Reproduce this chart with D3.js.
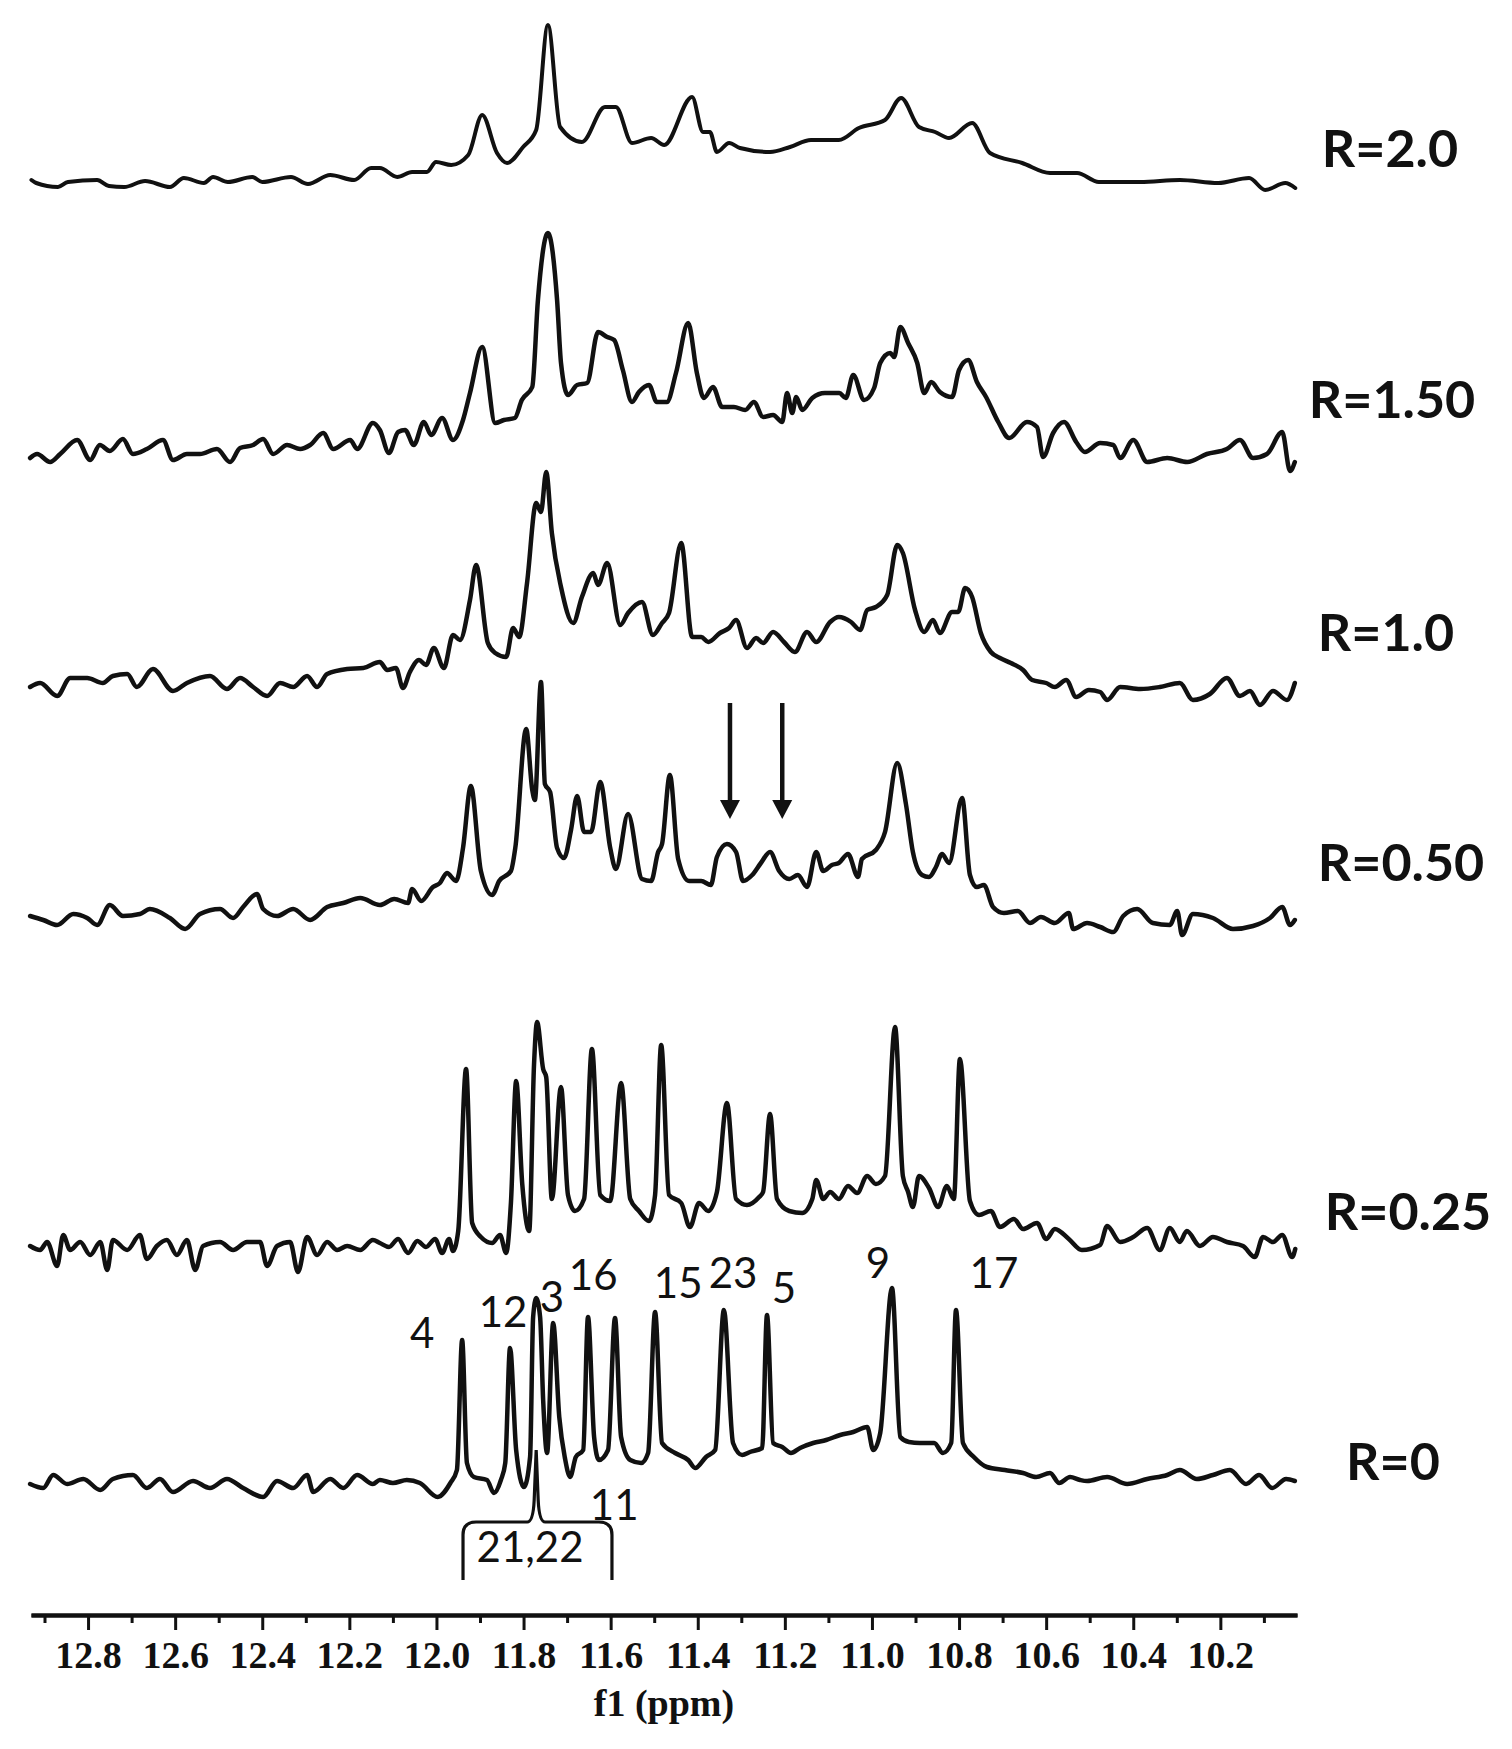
<!DOCTYPE html>
<html>
<head>
<meta charset="utf-8">
<script src="https://cdn.jsdelivr.net/npm/d3@7"></script>
<style>
  body { margin: 0; background: #fff; }
  svg { display: block; }
</style>
</head>
<body>
<div id="chart"></div>
<script>
// spectra: [ppm, intensity]
var specR20 = [
  [12.930,5],[12.919,2],[12.869,-2],[12.846,3],[12.779,5],[12.752,-1],[12.717,-2],[12.669,4],[12.612,-2],[12.580,7],
  [12.534,2],[12.513,8],[12.479,3],[12.423,8],[12.400,3],[12.334,8],[12.295,1],[12.244,10],[12.189,5],[12.150,17],
  [12.130,17],[12.090,8],[12.056,13],[12.022,13],[12.001,23],[11.966,20],[11.927,30],[11.895,70],[11.861,32],[11.838,22],
  [11.801,38],[11.771,55],[11.744,160],[11.716,58],[11.666,43],[11.613,78],[11.588,78],[11.551,42],[11.507,47],[11.477,40],
  [11.413,88],[11.388,53],[11.372,53],[11.356,33],[11.328,42],[11.303,37],[11.234,33],[11.188,38],[11.140,45],[11.076,45],
  [11.030,57],[10.970,65],[10.933,87],[10.892,58],[10.855,53],[10.823,47],[10.770,62],[10.729,32],[10.655,22],[10.591,12],
  [10.529,12],[10.479,3],[10.384,3],[10.293,5],[10.205,2],[10.134,7],[10.097,-5],[10.051,2],[10.028,-3]
];

var specR150 = [
  [12.933,2],[12.917,6],[12.887,-2],[12.864,6],[12.825,20],[12.795,0],[12.773,15],[12.750,9],[12.720,21],[12.697,6],
  [12.665,11],[12.628,20],[12.605,0],[12.573,6],[12.543,6],[12.504,11],[12.474,-2],[12.451,12],[12.421,15],[12.398,21],
  [12.375,6],[12.343,15],[12.313,11],[12.290,15],[12.260,27],[12.237,11],[12.198,20],[12.182,11],[12.146,37],[12.130,30],
  [12.109,7],[12.088,28],[12.072,30],[12.052,15],[12.029,38],[12.012,25],[11.987,42],[11.962,20],[11.939,40],[11.923,67],
  [11.895,113],[11.865,37],[11.845,40],[11.820,42],[11.804,60],[11.780,73],[11.767,160],[11.744,227],[11.723,160],[11.714,97],
  [11.698,65],[11.677,75],[11.654,77],[11.629,128],[11.608,123],[11.592,120],[11.572,90],[11.551,58],[11.535,68],[11.512,75],
  [11.494,58],[11.471,58],[11.450,87],[11.422,137],[11.402,87],[11.386,62],[11.365,73],[11.344,53],[11.317,53],[11.291,50],
  [11.271,58],[11.250,43],[11.227,45],[11.206,38],[11.195,67],[11.183,47],[11.174,63],[11.160,50],[11.137,62],[11.108,67],
  [11.075,67],[11.060,62],[11.043,85],[11.018,60],[10.995,72],[10.981,97],[10.958,107],[10.949,103],[10.935,133],[10.917,117],
  [10.896,97],[10.880,67],[10.864,78],[10.844,68],[10.816,63],[10.800,90],[10.779,100],[10.759,78],[10.738,63],[10.710,38],
  [10.685,22],[10.644,38],[10.621,33],[10.607,3],[10.584,27],[10.559,38],[10.531,18],[10.511,8],[10.476,17],[10.446,15],
  [10.430,2],[10.400,20],[10.368,-2],[10.322,2],[10.276,-2],[10.231,6],[10.185,11],[10.155,20],[10.125,2],[10.093,6],
  [10.058,28],[10.040,-11],[10.029,-2]
];

var specR10 = [
  [12.933,3],[12.910,7],[12.871,-6],[12.841,12],[12.802,12],[12.766,7],[12.743,14],[12.710,16],[12.688,3],[12.651,21],
  [12.605,-1],[12.573,7],[12.520,14],[12.481,1],[12.451,12],[12.421,3],[12.389,-6],[12.359,7],[12.329,3],[12.297,14],
  [12.274,3],[12.251,16],[12.205,21],[12.168,22],[12.130,28],[12.113,20],[12.093,22],[12.077,2],[12.061,18],[12.040,30],
  [12.024,25],[12.006,42],[11.983,22],[11.962,55],[11.946,50],[11.923,90],[11.909,125],[11.882,47],[11.865,37],[11.840,33],
  [11.824,62],[11.810,53],[11.792,107],[11.771,187],[11.760,178],[11.748,218],[11.735,157],[11.714,103],[11.686,67],[11.666,93],
  [11.640,117],[11.629,105],[11.608,127],[11.578,65],[11.560,77],[11.528,88],[11.503,55],[11.482,67],[11.466,77],[11.438,147],
  [11.413,53],[11.392,53],[11.376,48],[11.349,57],[11.328,62],[11.312,70],[11.287,42],[11.266,52],[11.250,47],[11.227,58],
  [11.202,48],[11.177,38],[11.149,58],[11.128,48],[11.096,68],[11.076,73],[11.048,68],[11.027,60],[11.011,80],[10.991,83],
  [10.965,95],[10.942,145],[10.929,137],[10.901,80],[10.880,58],[10.860,70],[10.844,57],[10.816,78],[10.802,78],[10.786,102],
  [10.770,93],[10.750,57],[10.727,38],[10.706,32],[10.681,27],[10.653,20],[10.632,10],[10.600,7],[10.580,3],[10.554,10],
  [10.531,-7],[10.502,0],[10.476,-2],[10.460,-10],[10.430,3],[10.384,1],[10.339,3],[10.293,7],[10.263,-10],[10.224,-4],
  [10.185,12],[10.155,-6],[10.132,-1],[10.109,-15],[10.079,-1],[10.047,-10],[10.029,7]
];

var specR050 = [
  [12.933,9],[12.903,5],[12.871,0],[12.834,11],[12.802,7],[12.779,0],[12.750,20],[12.720,9],[12.681,11],[12.658,16],
  [12.612,7],[12.577,-4],[12.543,11],[12.497,16],[12.467,7],[12.444,18],[12.412,31],[12.398,16],[12.366,9],[12.329,16],
  [12.290,5],[12.251,18],[12.214,22],[12.175,27],[12.130,20],[12.097,26],[12.065,22],[12.056,36],[12.035,24],[12.008,38],
  [11.992,42],[11.976,52],[11.955,44],[11.939,77],[11.921,139],[11.898,54],[11.872,30],[11.856,44],[11.829,54],[11.819,77],
  [11.794,196],[11.780,135],[11.774,125],[11.760,243],[11.751,141],[11.739,133],[11.723,77],[11.707,67],[11.691,95],[11.677,129],
  [11.661,93],[11.645,93],[11.624,143],[11.601,77],[11.588,56],[11.560,111],[11.528,46],[11.507,44],[11.491,73],[11.482,81],
  [11.464,150],[11.445,66],[11.420,44],[11.392,44],[11.370,40],[11.356,68],[11.333,81],[11.312,73],[11.296,44],[11.275,50],
  [11.255,62],[11.234,73],[11.213,54],[11.190,46],[11.170,50],[11.149,38],[11.128,73],[11.112,54],[11.092,60],[11.076,62],
  [11.055,71],[11.032,48],[11.023,66],[10.991,75],[10.970,93],[10.942,162],[10.922,121],[10.906,73],[10.885,50],[10.869,48],
  [10.853,58],[10.839,71],[10.823,62],[10.793,127],[10.775,50],[10.759,38],[10.743,40],[10.722,18],[10.697,12],[10.665,14],
  [10.637,2],[10.612,8],[10.580,2],[10.548,12],[10.538,-4],[10.506,2],[10.476,-2],[10.446,-7],[10.423,9],[10.391,16],
  [10.355,2],[10.316,0],[10.299,14],[10.288,-10],[10.263,11],[10.217,7],[10.171,-4],[10.125,-1],[10.086,7],[10.058,18],
  [10.040,0],[10.029,5]
];

var specR025 = [
  [12.933,9],[12.910,5],[12.894,13],[12.871,-11],[12.857,20],[12.841,5],[12.818,13],[12.795,0],[12.772,13],[12.756,-15],
  [12.743,15],[12.710,5],[12.681,20],[12.665,-4],[12.642,9],[12.619,15],[12.596,0],[12.573,15],[12.554,-15],[12.536,9],
  [12.497,13],[12.467,5],[12.435,13],[12.405,13],[12.389,-11],[12.366,9],[12.336,13],[12.318,-17],[12.297,18],[12.274,0],
  [12.251,13],[12.228,5],[12.205,9],[12.175,5],[12.146,15],[12.130,12],[12.109,8],[12.088,16],[12.065,2],[12.044,14],
  [12.024,8],[12.003,16],[11.987,2],[11.971,16],[11.962,4],[11.950,24],[11.932,186],[11.918,32],[11.898,18],[11.872,12],
  [11.854,20],[11.840,2],[11.829,52],[11.817,174],[11.803,71],[11.787,24],[11.776,190],[11.769,233],[11.755,186],[11.748,178],
  [11.735,56],[11.714,168],[11.698,60],[11.682,44],[11.661,56],[11.643,206],[11.624,60],[11.601,54],[11.576,172],[11.555,56],
  [11.535,44],[11.512,34],[11.498,60],[11.484,210],[11.466,60],[11.438,52],[11.418,28],[11.397,52],[11.376,44],[11.356,63],
  [11.333,152],[11.312,56],[11.287,50],[11.259,58],[11.250,63],[11.234,141],[11.218,56],[11.190,44],[11.160,42],[11.137,56],
  [11.128,75],[11.112,56],[11.096,63],[11.076,56],[11.055,69],[11.034,62],[11.011,79],[10.991,71],[10.970,79],[10.947,228],
  [10.929,79],[10.917,63],[10.906,48],[10.892,79],[10.869,67],[10.848,48],[10.828,69],[10.812,56],[10.798,196],[10.775,54],
  [10.754,40],[10.727,44],[10.706,28],[10.674,36],[10.653,26],[10.621,32],[10.600,16],[10.580,26],[10.548,16],[10.518,5],
  [10.476,10],[10.460,29],[10.430,13],[10.400,18],[10.368,27],[10.339,5],[10.316,27],[10.293,13],[10.277,24],[10.247,9],
  [10.217,18],[10.185,13],[10.148,9],[10.121,-2],[10.102,18],[10.079,13],[10.058,20],[10.035,-2],[10.028,6]
];

var specR0 = [
  [12.933,3],[12.903,-1],[12.880,12],[12.848,3],[12.811,8],[12.772,-3],[12.743,8],[12.697,12],[12.665,-1],[12.635,8],
  [12.605,-5],[12.559,6],[12.520,-1],[12.481,8],[12.444,-1],[12.398,-10],[12.366,6],[12.329,-1],[12.297,12],[12.283,-5],
  [12.244,8],[12.214,-1],[12.182,12],[12.146,3],[12.130,7],[12.100,4],[12.068,7],[12.038,4],[11.997,-10],[11.968,4],
  [11.953,17],[11.941,147],[11.930,24],[11.914,10],[11.884,7],[11.868,-6],[11.852,7],[11.842,24],[11.831,139],[11.817,37],
  [11.799,0],[11.785,30],[11.778,170],[11.771,189],[11.762,170],[11.755,87],[11.746,34],[11.732,164],[11.718,70],[11.705,29],
  [11.693,10],[11.680,30],[11.663,37],[11.652,170],[11.638,50],[11.627,27],[11.606,37],[11.590,169],[11.576,50],[11.555,27],
  [11.530,24],[11.514,34],[11.498,175],[11.482,44],[11.452,34],[11.422,27],[11.406,19],[11.381,30],[11.360,37],[11.340,177],
  [11.319,44],[11.298,32],[11.280,35],[11.252,39],[11.241,172],[11.227,44],[11.206,40],[11.186,34],[11.165,39],[11.135,44],
  [11.105,47],[11.073,52],[11.043,55],[11.011,60],[10.997,37],[10.981,54],[10.954,199],[10.935,50],[10.915,45],[10.890,44],
  [10.857,44],[10.837,34],[10.818,44],[10.807,177],[10.791,44],[10.766,30],[10.736,20],[10.695,17],[10.653,14],[10.623,10],
  [10.591,14],[10.570,4],[10.545,10],[10.522,7],[10.506,6],[10.460,10],[10.414,3],[10.368,8],[10.322,12],[10.293,17],
  [10.254,8],[10.217,12],[10.178,17],[10.141,3],[10.111,12],[10.081,-1],[10.049,8],[10.029,6]
];

var seriesNames = ['R=2.0', 'R=1.50', 'R=1.0', 'R=0.50', 'R=0.25', 'R=0'];
var spectra = [specR20, specR150, specR10, specR050, specR025, specR0];

var majorTicks = [12.8, 12.6, 12.4, 12.2, 12.0, 11.8, 11.6, 11.4, 11.2, 11.0, 10.8, 10.6, 10.4, 10.2];
var tickLabels = ['12.8', '12.6', '12.4', '12.2', '12.0', '11.8', '11.6', '11.4', '11.2', '11.0', '10.8', '10.6', '10.4', '10.2'];
var minorTicks = [12.9, 12.7, 12.5, 12.3, 12.1, 11.9, 11.7, 11.5, 11.3, 11.1, 10.9, 10.7, 10.5, 10.3, 10.1];

// peak assignments on the R=0 trace
var peakNames = ['4', '12', '3', '16', '15', '23', '5', '9', '17', '11', '21,22'];
var peakPpm = [12.033, 11.847, 11.735, 11.640, 11.445, 11.319, 11.202, 10.986, 10.720, 11.592, 11.785];

var arrowPpm = [11.326, 11.206];
var bracketPpm = [11.939, 11.771, 11.597];

// layout
var width = 1512, height = 1749;
var baselines = [185, 460, 690, 925, 1255, 1487];
var strokeWidths = [4, 4.5, 4.5, 4.5, 4.5, 4.5];
var seriesLabelX = [1390, 1392, 1386, 1401, 1408, 1393];
var seriesLabelY = [167, 418, 651, 881, 1230, 1480];
var peakLabelY = [1348, 1327, 1312, 1290, 1298, 1288, 1303, 1278, 1288, 1520, 1562];
var axisY = 1615;

var svg = d3.select('#chart')
  .append('svg')
  .attr('width', width)
  .attr('height', height)
  .style('background', '#fff');

var x = d3.scaleLinear()
  .domain([12.931, 10.024])
  .range([31, 1297]);

// stacked traces
spectra.forEach(function (data, i) {
  var y = d3.scaleLinear()
    .domain([0, 100])
    .range([baselines[i], baselines[i] - 100]);

  var line = d3.line()
    .x(function (d) { return x(d[0]); })
    .y(function (d) { return y(d[1]); })
    .curve(d3.curveMonotoneX);

  svg.append('path')
    .datum(data)
    .attr('class', 'trace')
    .attr('d', line)
    .attr('fill', 'none')
    .attr('stroke', '#111')
    .attr('stroke-width', strokeWidths[i])
    .attr('stroke-linejoin', 'round')
    .attr('stroke-linecap', 'round');

  svg.append('text')
    .attr('x', seriesLabelX[i])
    .attr('y', seriesLabelY[i])
    .attr('text-anchor', 'middle')
    .attr('font-family', 'Lato, sans-serif')
    .attr('font-weight', 700)
    .attr('font-size', 52)
    .attr('fill', '#111')
    .text(seriesNames[i]);
});

// x axis: minor ticks, then major ticks with labels
var gMinor = svg.append('g')
  .attr('transform', 'translate(0,' + axisY + ')')
  .call(d3.axisBottom(x)
    .tickValues(minorTicks)
    .tickSize(8)
    .tickSizeOuter(0)
    .tickFormat(''));

var gMajor = svg.append('g')
  .attr('transform', 'translate(0,' + axisY + ')')
  .call(d3.axisBottom(x)
    .tickValues(majorTicks)
    .tickSize(15)
    .tickSizeOuter(0)
    .tickFormat(function (d, i) { return tickLabels[i]; }));

svg.selectAll('.domain')
  .attr('stroke', '#111')
  .attr('stroke-width', 4);

svg.selectAll('.tick line')
  .attr('stroke', '#111')
  .attr('stroke-width', 3);

gMajor.selectAll('.tick text')
  .attr('y', 53)
  .attr('dy', 0)
  .attr('font-family', '"Liberation Serif", "Times New Roman", serif')
  .attr('font-weight', 'bold')
  .attr('font-size', 38)
  .attr('fill', '#111');

svg.append('text')
  .attr('x', 664)
  .attr('y', 1716)
  .attr('text-anchor', 'middle')
  .attr('font-family', '"Liberation Serif", "Times New Roman", serif')
  .attr('font-weight', 'bold')
  .attr('font-size', 38)
  .attr('fill', '#111')
  .text('f1 (ppm)');

// peak numbers
svg.selectAll('.peak-label')
  .data(peakNames)
  .enter()
  .append('text')
  .attr('class', 'peak-label')
  .attr('x', function (d, i) { return x(peakPpm[i]); })
  .attr('y', function (d, i) { return peakLabelY[i]; })
  .attr('text-anchor', 'middle')
  .attr('font-family', 'Lato, sans-serif')
  .attr('font-size', 42)
  .attr('fill', '#111')
  .text(function (d) { return d; });

// bracket under 21,22
var xl = x(bracketPpm[0]), xm = x(bracketPpm[1]), xr = x(bracketPpm[2]);
var by = 1522;
svg.append('path')
  .attr('d', 'M' + xl + ',1580 L' + xl + ',' + (by + 13) +
    ' Q' + xl + ',' + by + ' ' + (xl + 13) + ',' + by +
    ' L' + (xm - 9) + ',' + by +
    ' Q' + (xm - 3) + ',' + by + ' ' + (xm - 2) + ',' + (by - 22) +
    ' L' + xm + ',1450 L' + (xm + 2) + ',' + (by - 22) +
    ' Q' + (xm + 3) + ',' + by + ' ' + (xm + 9) + ',' + by +
    ' L' + (xr - 13) + ',' + by +
    ' Q' + xr + ',' + by + ' ' + xr + ',' + (by + 13) +
    ' L' + xr + ',1580')
  .attr('fill', 'none')
  .attr('stroke', '#111')
  .attr('stroke-width', 3.2);

// arrows on R=0.50
arrowPpm.forEach(function (p) {
  var ax = x(p);
  svg.append('line')
    .attr('x1', ax).attr('x2', ax)
    .attr('y1', 703).attr('y2', 805)
    .attr('stroke', '#111')
    .attr('stroke-width', 4.5);
  svg.append('path')
    .attr('d', 'M' + (ax - 10) + ',800 L' + (ax + 10) + ',800 L' + ax + ',819 Z')
    .attr('fill', '#111');
});
</script>
</body>
</html>
